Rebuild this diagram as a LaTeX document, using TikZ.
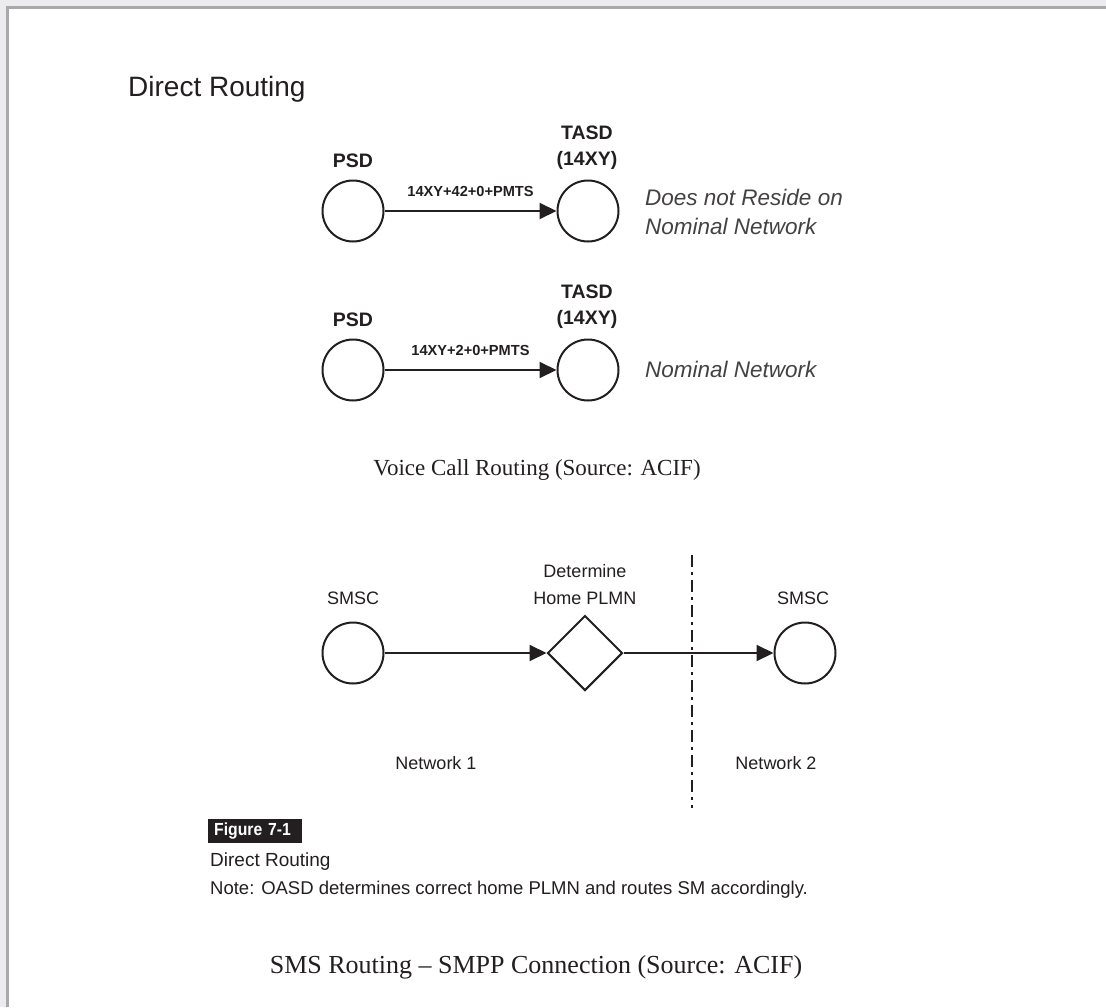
\documentclass[tikz,border=0pt]{standalone}
\usepackage{fontspec}
\setsansfont{Liberation Sans}
\setmainfont{Liberation Serif}
\newfontfamily\narrowsans[FakeStretch=0.9]{Liberation Sans}
\usetikzlibrary{arrows.meta,shapes.geometric}
\definecolor{bgc}{HTML}{ECECEE}
\definecolor{bordc}{HTML}{A9A9AD}
\definecolor{ink}{HTML}{231F20}
\tikzset{
  circ/.style={circle,draw=ink,line width=2,minimum size=61,inner sep=0},
  dmd/.style={diamond,draw=ink,line width=2,minimum width=75,minimum height=75,inner sep=0},
  arr/.style={draw=ink,line width=2,-{Triangle[length=17,width=16]}},
  boldlbl/.style={font=\sffamily\bfseries\fontsize{19.5}{21}\selectfont,text=ink,inner sep=0},
  edgelbl/.style={font=\sffamily\bfseries\fontsize{14.6}{16}\selectfont,text=ink,inner sep=0},
  plainlbl/.style={font=\sffamily\fontsize{18}{20}\selectfont,text=ink,inner sep=0},
  italbl/.style={font=\sffamily\itshape\fontsize{22.5}{24}\selectfont,text=ink!85,inner sep=0,anchor=west},
  seriflbl/.style={font=\rmfamily\fontsize{24}{26}\selectfont,text=ink,inner sep=0},
  dashdot/.style={draw=ink,line width=2.5,dash pattern=on 12 off 5 on 3 off 5}
}
\begin{document}
\begin{tikzpicture}[x=1pt,y=-1pt]
\useasboundingbox (0,0) rectangle (1106,1007);
\fill[bgc] (0,0) rectangle (1106,1007);
\fill[white] (7,7) rectangle (1106,1007);
\draw[bordc,line width=2.6] (7.3,1007) -- (7.3,7.3) -- (1106,7.3);

% title
\node[font=\sffamily\fontsize{28}{30}\selectfont,text=ink,anchor=west,inner sep=0] (title) at (128,89) {Direct Routing};

% diagram 1
\node[circ] (psd1) at (353,211) {};
\node[circ] (tasd1) at (588,211) {};
\node[boldlbl] (psd1l) at (353,161) {PSD};
\node[boldlbl] (tasd1l) at (587,133) {TASD};
\node[boldlbl] (tasd1n) at (587,160) {(14XY)};
\draw[arr] (psd1) -- node[edgelbl,above=13pt] (e1) {14XY+42+0+PMTS} (tasd1);
\node[italbl] (res1) at (645,197) {Does not Reside on};
\node[italbl] (res2) at (645,226) {Nominal Network};

% diagram 2
\node[circ] (psd2) at (353,370) {};
\node[circ] (tasd2) at (588,370) {};
\node[boldlbl] (psd2l) at (353,320) {PSD};
\node[boldlbl] (tasd2l) at (587,292) {TASD};
\node[boldlbl] (tasd2n) at (587,319) {(14XY)};
\draw[arr] (psd2) -- node[edgelbl,above=13pt] (e2) {14XY+2+0+PMTS} (tasd2);
\node[italbl] (nom2) at (645,369) {Nominal Network};

\node[seriflbl,font=\rmfamily\fontsize{23}{25}\selectfont] (cap1) at (537,470) {Voice Call Routing (Source: ACIF)};

% SMS diagram
\node[circ] (smsc1) at (353,653) {};
\node[dmd] (det) at (585,653) {};
\node[circ] (smsc2) at (805,653) {};
\node[plainlbl] (smsc1l) at (353,598) {SMSC};
\node[plainlbl] (detl1) at (585,571) {Determine};
\node[plainlbl] (detl2) at (585,598) {Home PLMN};
\node[plainlbl] (smsc2l) at (803,598) {SMSC};
\coordinate (dtop) at (692,555);
\coordinate (dbot) at (692,808);
\draw[dashdot] (dtop) -- (dbot);
\draw[arr] (smsc1) -- (det);
\draw[arr] (det) -- (smsc2);
\node[plainlbl] (net1) at (436,763) {Network 1};
\node[plainlbl] (net2) at (776,763) {Network 2};

% figure caption
\node[fill=ink,text=white,font=\narrowsans\bfseries\fontsize{17.5}{19}\selectfont,anchor=west,minimum width=94,minimum height=22,inner xsep=0,text width=82,align=left] (fig) at (208,831) {Figure 7-1};
\node[font=\sffamily\fontsize{19}{21}\selectfont,text=ink,anchor=west,inner sep=0] (figt) at (210,862) {Direct Routing};
\node[font=\sffamily\fontsize{18.5}{20}\selectfont,text=ink,anchor=west,inner sep=0] (note) at (210,890) {Note: OASD determines correct home PLMN and routes SM accordingly.};

\node[seriflbl,font=\rmfamily\fontsize{26}{28}\selectfont] (cap2) at (536,967) {SMS Routing -- SMPP Connection (Source: ACIF)};
\end{tikzpicture}
\end{document}
